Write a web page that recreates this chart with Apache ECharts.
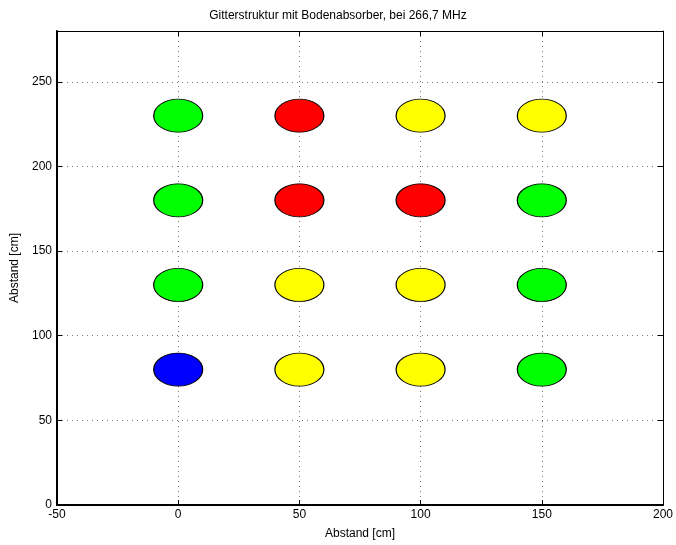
<!DOCTYPE html>
<html>
<head>
<meta charset="utf-8">
<script src="https://cdn.jsdelivr.net/npm/echarts@6/dist/echarts.min.js"></script>
<style>
  html, body { margin: 0; padding: 0; background: #fff; }
  #main { width: 676px; height: 545px; }
</style>
</head>
<body>
<div id="main"></div>
<script>
// Positions of the measurement points
const xPositions = [0, 50, 100, 150]
const yPositions = [230, 180, 130, 80]
// Colour class of every point, one row per y position (top to bottom)
const colorRows = [
  ['green', 'red', 'yellow', 'yellow'],
  ['green', 'red', 'red', 'green'],
  ['green', 'yellow', 'yellow', 'green'],
  ['blue', 'yellow', 'yellow', 'green']
]
const xTicks = [-50, 0, 50, 100, 150, 200]
const yTicks = [0, 50, 100, 150, 200, 250]

const palette = {
  green: '#00ff00',
  red: '#ff0000',
  yellow: '#ffff00',
  blue: '#0000ff'
}

const font = 'Liberation Sans, Arial, sans-serif'

let points = []
yPositions.forEach(function (y, r) {
  xPositions.forEach(function (x, c) {
    points.push({
      value: [x, y],
      itemStyle: { color: palette[colorRows[r][c]] }
    })
  })
})

const myChart = echarts.init(document.querySelector('#main'))

function axisBase(width) {
  return {
    axisLine: { show: true, onZero: false, lineStyle: { color: '#000', width: width } },
    axisTick: { show: true, inside: true, length: 5, lineStyle: { color: '#000' } },
    splitLine: { show: false }
  }
}

const gridDots = { show: true, lineStyle: { color: '#777', type: [1, 4], width: 1 } }
const labelStyle = { fontFamily: font, fontSize: 12, color: '#000' }

myChart.setOption({
  animation: false,
  backgroundColor: '#fff',
  title: {
    text: 'Gitterstruktur mit Bodenabsorber, bei 266,7 MHz',
    left: 'center',
    top: 5,
    textStyle: { fontFamily: font, fontSize: 12, fontWeight: 'normal', color: '#000' }
  },
  grid: { left: 57, right: 12, top: 31, bottom: 37 },
  xAxis: [
    Object.assign({}, axisBase(2), {
      type: 'value', min: -50, max: 200, interval: 50, position: 'bottom',
      name: 'Abstand [cm]', nameLocation: 'middle', nameGap: 23,
      nameTextStyle: labelStyle,
      axisLabel: Object.assign({ margin: 4,
        formatter: function (v) { return xTicks.indexOf(v) >= 0 ? String(v) : '' } }, labelStyle),
      splitLine: gridDots
    }),
    Object.assign({}, axisBase(1), {
      type: 'value', min: -50, max: 200, interval: 50, position: 'top',
      axisLabel: { show: false }
    })
  ],
  yAxis: [
    Object.assign({}, axisBase(2), {
      type: 'value', min: 0, max: 280, interval: 50, position: 'left',
      name: 'Abstand [cm]', nameLocation: 'middle', nameGap: 33,
      nameTextStyle: labelStyle,
      axisLabel: Object.assign({ margin: 5,
        formatter: function (v) { return yTicks.indexOf(v) >= 0 ? String(v) : '' } }, labelStyle),
      splitLine: gridDots
    }),
    Object.assign({}, axisBase(1), {
      type: 'value', min: 0, max: 280, interval: 50, position: 'right',
      axisLabel: { show: false }
    })
  ],
  series: [{
    type: 'scatter',
    xAxisIndex: 0,
    yAxisIndex: 0,
    symbol: 'circle',
    symbolSize: [49, 33],
    itemStyle: { borderColor: '#000', borderWidth: 1, opacity: 1 },
    data: points
  }]
})
</script>
</body>
</html>
